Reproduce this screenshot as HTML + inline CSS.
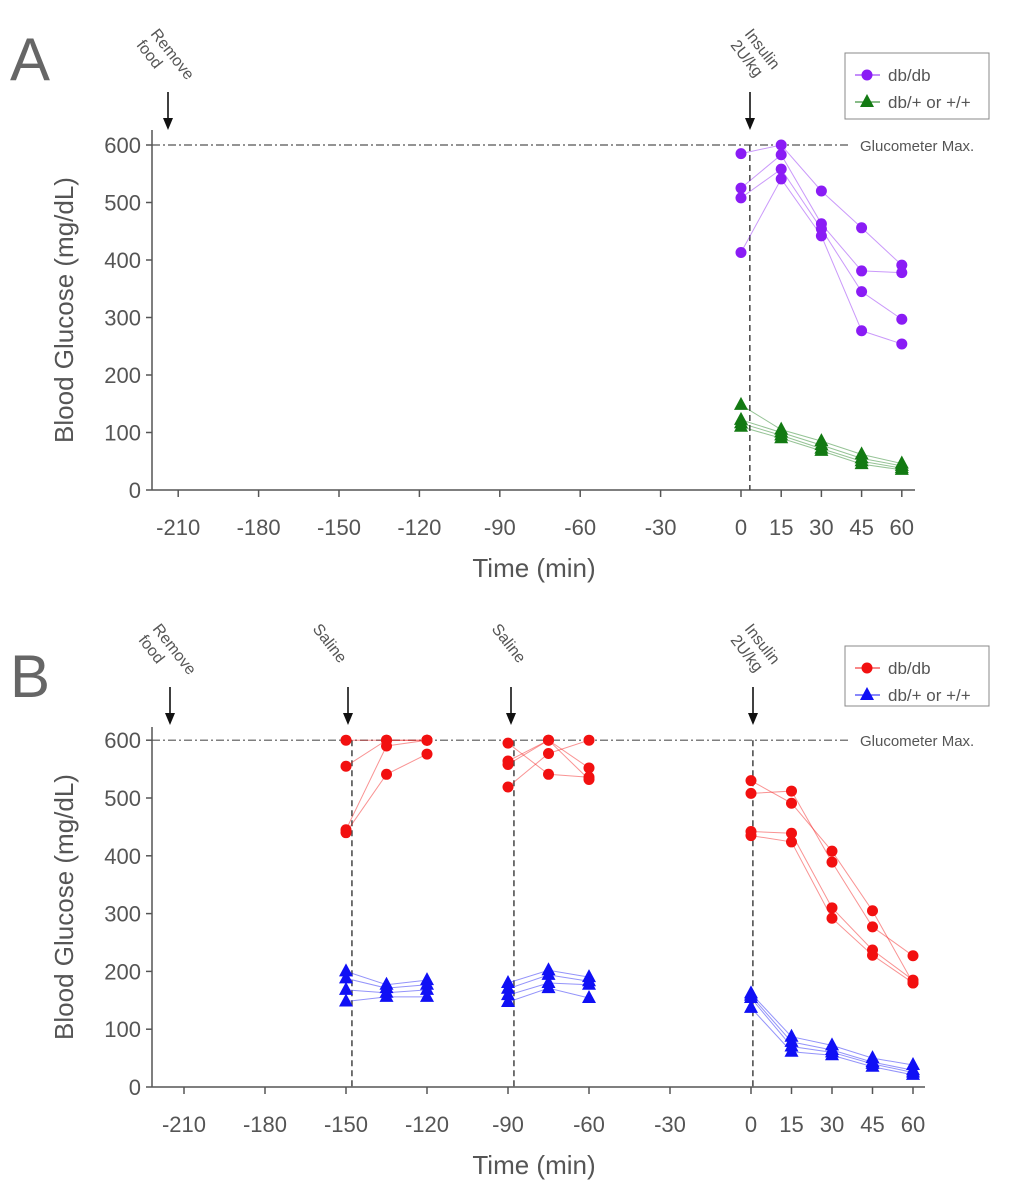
<!DOCTYPE html>
<html><head><meta charset="utf-8"><style>
html,body{margin:0;padding:0;background:#fff;}
svg{display:block;font-family:"Liberation Sans",sans-serif;}
</style></head><body>
<svg id="chart" width="1013" height="1200" viewBox="0 0 1013 1200"></svg>
<script>
// ---- Panel A data ----
const xTickValues = [-210,-180,-150,-120,-90,-60,-30,0,15,30,45,60];
const yTickValues = [0,100,200,300,400,500,600];
const timesA = [0,15,30,45,60];
const dbdbA = [[585,600,520,456,391],[525,583,463,381,378],[508,558,454,345,297],[413,541,442,277,254]];
const ctrlA = [[148,105,85,62,46],[122,100,78,55,42],[116,95,72,50,38],[110,90,68,45,35]];
// ---- Panel B data ----
const timesB1 = [-150,-135,-120];
const timesB2 = [-90,-75,-60];
const timesB3 = [0,15,30,45,60];
const dbdbB1 = [[600,600,600],[555,600,600],[445,590,600],[440,541,576]];
const ctrlB1 = [[200,177,185],[188,171,177],[168,163,168],[148,156,156]];
const dbdbB2 = [[595,541,536],[564,600,552],[558,600,532],[519,577,600]];
const ctrlB2 = [[180,202,190],[170,194,183],[159,180,177],[147,171,154]];
const dbdbB3 = [[530,491,408,305,180],[508,512,389,277,227],[442,439,310,237,185],[435,424,292,228,180]];
const ctrlB3 = [[162,87,72,50,38],[158,78,64,43,29],[154,70,60,40,25],[137,61,55,35,21]];

const NS='http://www.w3.org/2000/svg';
const svg=document.getElementById('chart');
function mk(tag,attrs,parent){const e=document.createElementNS(NS,tag);for(const k in attrs)e.setAttribute(k,attrs[k]);(parent||svg).appendChild(e);return e;}

function panel(P){
  const g=mk('g',{});
  
  
  const sx=v=>P.x0+v*P.kx, sy=v=>P.y0-v*P.ky;
  const L=mk('text',{x:10,y:P.letterY,'font-size':60,fill:'#666'},g);L.textContent=P.letter;
  
  
  const ya=mk('line',{x1:152,y1:P.y0,x2:152,y2:P.yTop,stroke:'#555','stroke-width':1.5},g);
  
  
  const xa=mk('line',{x1:152,y1:P.y0,x2:P.xEnd,y2:P.y0,stroke:'#555','stroke-width':1.5},g);
  
  
  yTickValues.forEach(v=>{
    mk('line',{x1:146,x2:152,y1:sy(v),y2:sy(v),stroke:'#555','stroke-width':1.5},g);
    const t=mk('text',{x:141,y:sy(v)+8,'text-anchor':'end','font-size':22,fill:'#555'},g);t.textContent=v;
    
    
  });
  xTickValues.forEach(v=>{
    mk('line',{x1:sx(v),x2:sx(v),y1:P.y0,y2:P.y0+7,stroke:'#555','stroke-width':1.5},g);
    const t=mk('text',{x:sx(v),y:P.y0+45,'text-anchor':'middle','font-size':22,fill:'#555'},g);t.textContent=v;
    
    
  });
  const xt=mk('text',{x:534,y:P.y0+87,'text-anchor':'middle','font-size':26,fill:'#555'},g);xt.textContent='Time (min)';
  
  
  const yc=(P.y0+P.yTop)/2;
  const yt=mk('text',{x:73,y:yc,'text-anchor':'middle','font-size':26,fill:'#555',transform:`rotate(-90 73 ${yc})`},g);yt.textContent='Blood Glucose (mg/dL)';
  
  
  const gm=mk('line',{x1:152,x2:850,y1:sy(600),y2:sy(600),stroke:'#555','stroke-width':1.2,'stroke-dasharray':'8 3 2 3'},g);
  
  
  const gt=mk('text',{x:860,y:sy(600)+6,'font-size':15,fill:'#555'},g);gt.textContent='Glucometer Max.';
  
  
  P.vlines.forEach(v=>{
    const d=mk('line',{x1:sx(v),x2:sx(v),y1:sy(600),y2:P.y0,stroke:'#444','stroke-width':1.5,'stroke-dasharray':'6 4'},g);
    
    
  });
  P.arrows.forEach(a=>{
    const x=a.x;
    mk('line',{x1:x,x2:x,y1:P.arrowTop,y2:P.arrowTop+28,stroke:'#111','stroke-width':1.6},g);
    const h=mk('polygon',{points:`${x-5},${P.arrowTop+26} ${x+5},${P.arrowTop+26} ${x},${P.arrowTop+38}`,fill:'#111'},g);
    
    
    const tx=x+a.dx, ty=P.arrowTop-58;
    const t=mk('text',{x:tx,y:ty,'font-size':16,fill:'#555',transform:`rotate(52 ${tx} ${ty})`},g);
    
    
    a.lines.forEach((s,i)=>{const ts=mk('tspan',{x:tx,dy:i?18:0},t);ts.textContent=s;});
  });
  function series(times,data,color,shape,nm){
    data.forEach(row=>{
      const pts=times.map((t,i)=>sx(t)+','+sy(row[i])).join(' ');
      const pl=mk('polyline',{points:pts,fill:'none',stroke:color,'stroke-width':1,'stroke-opacity':0.45},g);
      
      
    });
    data.forEach(row=>times.forEach((t,i)=>{
      const x=sx(t),y=sy(row[i]);let m;
      if(shape==='c')m=mk('circle',{cx:x,cy:y,r:5.5,fill:color},g);
      else m=mk('polygon',{points:`${x},${y-8} ${x-7},${y+5} ${x+7},${y+5}`,fill:color},g);
      
      
    }));
  }
  P.series.forEach(s=>series(s[0],s[1],s[2],s[3],s[4]));
  const lg=mk('g',{},g);
  
  
  mk('rect',{x:845,y:P.legY,width:144,height:P.legH,fill:'#fff',stroke:'#888','stroke-width':1},lg);
  P.legend.forEach((e,i)=>{
    const yy=P.legY+22+i*27;
    mk('line',{x1:855,x2:880,y1:yy,y2:yy,stroke:e[0],'stroke-width':1},lg);
    if(e[1]==='c')mk('circle',{cx:867,cy:yy,r:5.5,fill:e[0]},lg);
    else mk('polygon',{points:`867,${yy-8} 860,${yy+5} 874,${yy+5}`,fill:e[0]},lg);
    const t=mk('text',{x:888,y:yy+6,'font-size':17,fill:'#555'},lg);t.textContent=e[2];
    
    
  });
}

panel({name:'panel-a',letter:'A',letterY:80,x0:741,kx:2.68,y0:490,ky:0.575,yTop:130,xEnd:915,
  vlines:[3.3],arrowTop:92,legY:53,legH:66,
  arrows:[{x:168,dx:-18,lines:['Remove','food']},{x:750,dx:-6,lines:['Insulin','2U/kg']}],
  series:[[timesA,dbdbA,'#8a1cf5','c','dbdb'],[timesA,ctrlA,'#137a13','t','control']],
  legend:[['#8a1cf5','c','db/db'],['#137a13','t','db/+ or +/+']]});
panel({name:'panel-b',letter:'B',letterY:697,x0:751,kx:2.7,y0:1087,ky:0.578,yTop:727,xEnd:925,
  vlines:[-147.8,-87.8,0.7],arrowTop:687,legY:646,legH:60,
  arrows:[{x:170,dx:-18,lines:['Remove','food']},{x:348,dx:-36,lines:['Saline']},{x:511,dx:-20,lines:['Saline']},{x:753,dx:-9,lines:['Insulin','2U/kg']}],
  series:[[timesB1,dbdbB1,'#f21010','c','dbdb'],[timesB2,dbdbB2,'#f21010','c','dbdb'],[timesB3,dbdbB3,'#f21010','c','dbdb'],
          [timesB1,ctrlB1,'#1010f5','t','control'],[timesB2,ctrlB2,'#1010f5','t','control'],[timesB3,ctrlB3,'#1010f5','t','control']],
  legend:[['#f21010','c','db/db'],['#1010f5','t','db/+ or +/+']]});
</script>
</body></html>
